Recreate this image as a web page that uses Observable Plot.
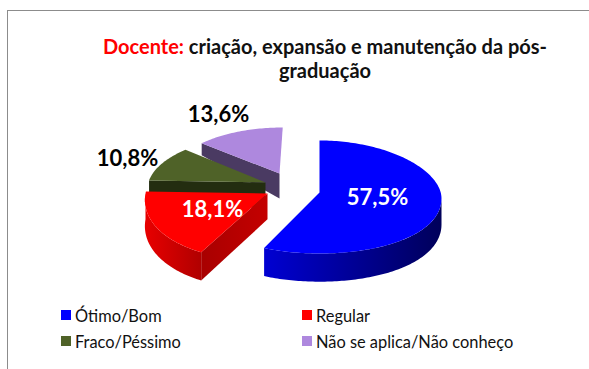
<!DOCTYPE html>
<html lang="pt">
<head>
<meta charset="utf-8">
<script src="https://cdn.jsdelivr.net/npm/d3@7"></script>
<script src="https://cdn.jsdelivr.net/npm/@observablehq/plot@0.6"></script>
<style>
html,body{margin:0;padding:0;background:#fff;}
body{width:589px;height:369px;overflow:hidden;font-family:Lato,"Open Sans",sans-serif;}
#frame{position:relative;width:589px;height:369px;}
#frame:before{content:"";position:absolute;left:7px;top:10px;right:-5px;bottom:-5px;border:1.5px solid #8c8c8c;box-sizing:border-box;pointer-events:none;}
#title{height:90px;box-sizing:border-box;padding:34px 0 0 61px;text-align:center;font-weight:700;font-size:20px;line-height:24px;color:#111;white-space:nowrap;}
#title span{color:#f00;}
#chart{height:210px;}
#chart svg{display:block;}
#legend{position:relative;height:69px;font-size:16.4px;color:#111;}
.item{position:absolute;display:flex;align-items:center;height:20px;white-space:nowrap;}
.item i{display:block;width:10px;height:10px;margin-right:4px;}
</style>
</head>
<body>
<div id="frame">
  <div id="title"><span>Docente:</span> criação, expansão e manutenção da pós-<br>graduação</div>
  <div id="chart"></div>
  <div id="legend"></div>
</div>
<script>
// Data
const categories = ["Ótimo/Bom", "Regular", "Fraco/Péssimo", "Não se aplica/Não conheço"];
const percentages = [57.5, 18.1, 10.8, 13.6];
const topColors = ["#0000ff", "#ff0000", "#4f6228", "#ae88de"];

// Layout of the exploded slices (apex, radii, perspective shear), by category index
const geometry = [
  {cx: 319, cy: 192, a: 122, bBack: 52, bFront: 61, shear: 0, bulge: 6},
  {cx: 267, cy: 193, a: 122, bBack: 52, bFront: 66, shear: -0.186, bulge: 0},
  {cx: 265, cy: 182, a: 117, bBack: 50, bFront: 50, shear: -0.25, bulge: 0},
  {cx: 279, cy: 173, a: 106, bBack: 46, bFront: 46, shear: -0.07, bulge: 0}
];
const sideFills = [
  {outer: ["#0000d2", "#00005a"], start: "#0000c0", end: "#00008a"},
  {outer: ["#e80000", "#b00000"], start: "#a80000", end: "#c40000"},
  {outer: ["#2a3412", "#232d10"], start: "#232d10", end: "#232d10"},
  {outer: ["#4a3a62", "#4a3a62"], start: "#4a3a62", end: "#4a3a62"}
];
const labelPlaces = [
  {x: 377, y: 197, fill: "#fff"},
  {x: 212, y: 209, fill: "#fff"},
  {x: 127, y: 158, fill: "#000"},
  {x: 218, y: 114, fill: "#000"}
];
const drawOrder = [3, 2, 1, 0];

const arcs = d3.pie().sort(null)(percentages); // clockwise from 12 o'clock
const thickness = y => y < 173 ? 12 + (y - 143) * 0.433 : 25 + (y - 173) * 0.04;
const down = p => ({x: p.x, y: p.y + thickness(p.y)});

function rim(g, t) {
  const dy = (Math.cos(t) > 0 ? -g.bBack * Math.cos(t) : -g.bFront * Math.cos(t)) + g.bulge * Math.sin(t) ** 2;
  return {x: g.cx + g.a * Math.sin(t) + g.shear * dy, y: g.cy + dy};
}
function sweep(g, t0, t1) {
  const n = Math.max(2, Math.ceil(Math.abs(t1 - t0) / 0.02));
  return d3.range(n + 1).map(i => rim(g, t0 + (t1 - t0) * i / n));
}

const defs = d3.create("svg:defs");
function gradient(id, c0, c1) {
  const lg = defs.append("linearGradient").attr("id", id);
  lg.append("stop").attr("offset", "0%").attr("stop-color", c0);
  lg.append("stop").attr("offset", "100%").attr("stop-color", c1);
  return `url(#${id})`;
}

const polygon = (pts, fill) => Plot.line(pts, {x: "x", y: "y", fill, stroke: "none", curve: "linear"});

const sliceMarks = drawOrder.flatMap(i => {
  const g = geometry[i], {startAngle: s, endAngle: e} = arcs[i], side = sideFills[i];
  const apex = {x: g.cx, y: g.cy};
  const marks = [];
  // radial wall on the clockwise-start edge
  if (Math.sin(s) < -1e-6) {
    const p = rim(g, s);
    marks.push(polygon([apex, p, down(p), down(apex), apex], gradient(`s${i}`, side.start, side.end)));
  }
  // outer wall, the part that faces the viewer
  const from = Math.max(s, Math.PI / 2), to = Math.min(e, 3 * Math.PI / 2);
  if (to > from) {
    const arc = sweep(g, from, to);
    marks.push(polygon([...arc, ...arc.map(down).reverse(), arc[0]], gradient(`o${i}`, ...side.outer)));
  }
  // top face
  marks.push(polygon([apex, ...sweep(g, s, e), apex], topColors[i]));
  return marks;
});

const labels = percentages.map((v, i) => ({
  text: v.toFixed(1).replace(".", ",") + "%",
  ...labelPlaces[i]
}));

const plot = Plot.plot({
  width: 589,
  height: 210,
  margin: 0,
  x: {domain: [0, 589], range: [0, 589], axis: null},
  y: {domain: [90, 300], range: [0, 210], axis: null},
  marks: [
    () => defs.node(),
    ...sliceMarks,
    Plot.text(labels, {
      x: "x", y: "y", text: "text", fill: d => d.fill,
      fontSize: 22, fontWeight: 700, fontFamily: "Lato", textAnchor: "middle", lineAnchor: "middle"
    })
  ]
});
plot.style.background = "transparent";
document.getElementById("chart").append(plot);

// Legend
const places = [[61, 6], [302, 6], [61, 32], [302, 32]];
const legend = d3.select("#legend");
categories.forEach((c, i) => {
  const item = legend.append("div").attr("class", "item")
    .style("left", places[i][0] + "px").style("top", (places[i][1] - 1) + "px");
  item.append("i").style("background", topColors[i]);
  item.append("span").text(c);
});
</script>
</body>
</html>
